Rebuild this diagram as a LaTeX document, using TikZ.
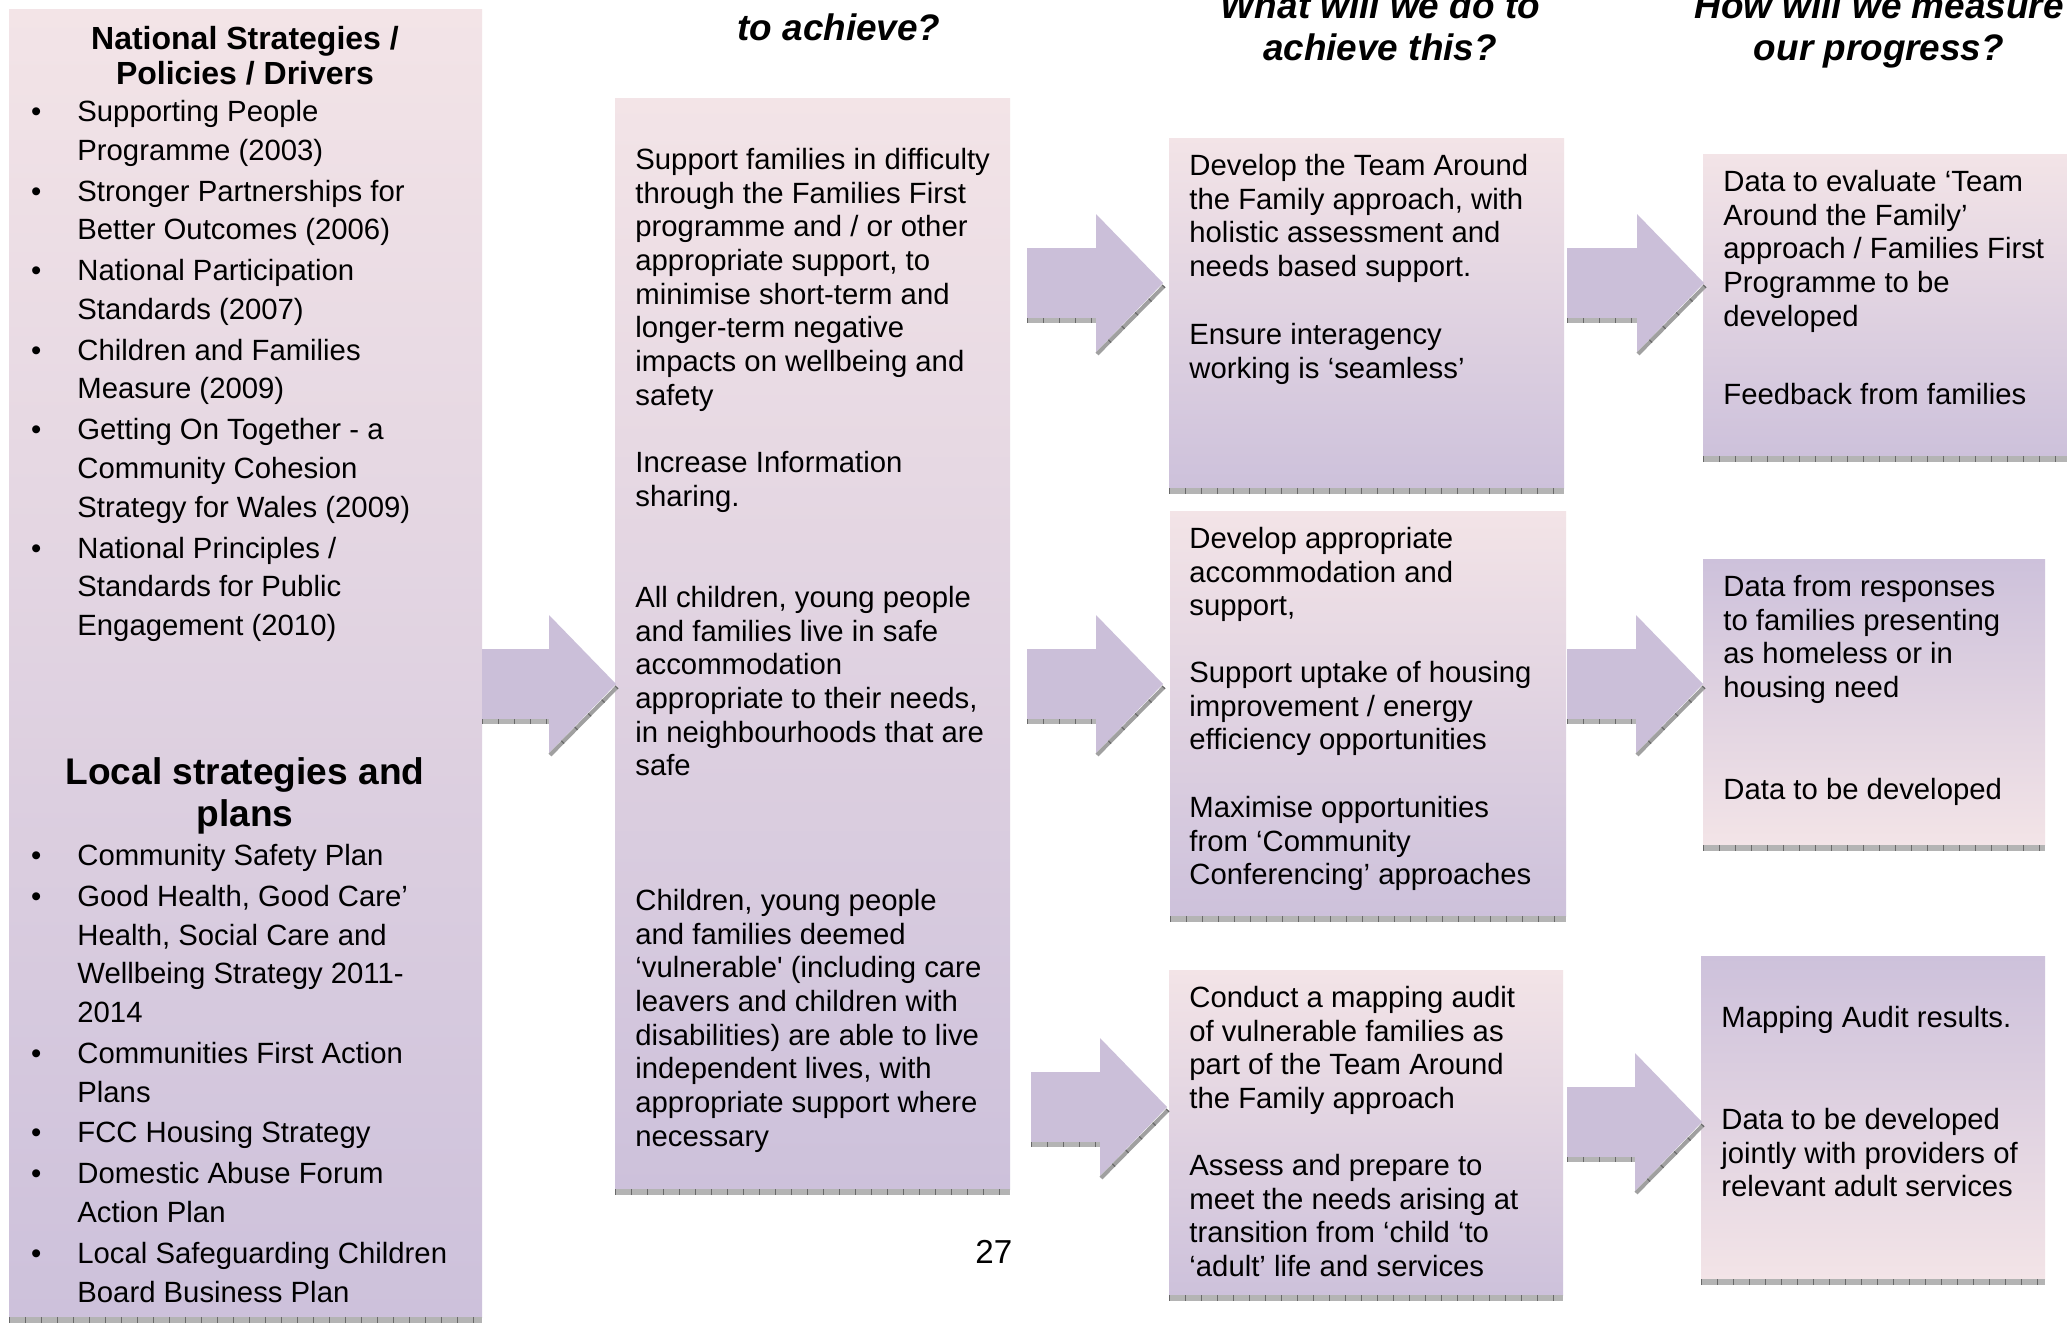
\documentclass[tikz,border=0pt]{standalone}
\usepackage{fontspec}
\setmainfont{Liberation Sans}
\definecolor{pinkC}{RGB}{243,228,231}
\definecolor{lavC}{RGB}{205,193,219}
\definecolor{arrC}{RGB}{203,191,217}
\definecolor{bandC}{RGB}{180,180,180}
\definecolor{edgeC}{RGB}{160,160,160}
\definecolor{tickC}{RGB}{105,105,105}
\newcommand\bodyfont{\fontsize{14.65pt}{16.83pt}\selectfont}
\newcommand\listfont{\fontsize{14.65pt}{19.35pt}\selectfont}
\newcommand\headfont{\bfseries\fontsize{16pt}{17.5pt}\selectfont}
\newcommand\localfont{\bfseries\fontsize{18.55pt}{21pt}\selectfont}
\newcommand\colhfont{\bfseries\itshape\fontsize{18.45pt}{21pt}\selectfont}
\newcommand\pagefont{\fontsize{16.6pt}{19pt}\selectfont}
\newcommand\fl{\rule{0pt}{12pt}}
\newcommand\fh{\rule{0pt}{16pt}}
\newcommand\bul{\llap{\textbullet\hspace{18pt}}}
% gradient box: x1 y1 x2 y2 topcolor bottomcolor
\newcommand\gbox[6]{%
  \shade[top color=#5,bottom color=#6] (#1,#2) rectangle (#3,#4);
  \fill[bandC] (#1,#4) rectangle (#3,{#4+6});
  \draw[tickC,line width=3pt,dash pattern=on 0.6pt off 7.4pt] (#1,{#4+3}) -- (#3,{#4+3});
}
% block arrow: left x, tip x, centre y
\newcommand\barrow[3]{%
  \fill[arrC] (#1,{#3-35}) -- ({#2-67},{#3-35}) -- ({#2-67},{#3-69}) -- (#2,#3)
     -- ({#2-67},{#3+69}) -- ({#2-67},{#3+35}) -- (#1,{#3+35}) -- cycle;
  \fill[bandC] (#1,{#3+35}) rectangle ({#2-67},{#3+40});
  \draw[tickC,line width=2.5pt,dash pattern=on 0.6pt off 7.4pt] (#1,{#3+37.5}) -- ({#2-67},{#3+37.5});
  \draw[edgeC,line width=2pt] ({#2+1},{#3+3}) -- ({#2-66},{#3+71});
  \draw[tickC,line width=2pt,dash pattern=on 0.6pt off 9pt] ({#2+1},{#3+3}) -- ({#2-66},{#3+71});
}
\begin{document}
\begin{tikzpicture}[x=0.5pt,y=-0.5pt,
  txt/.style={anchor=north west,inner sep=0pt,align=left,font=\bodyfont},
  lst/.style={anchor=north west,inner sep=0pt,align=left,font=\listfont},
  colh/.style={anchor=north,inner sep=0pt,align=center,font=\colhfont}]
\useasboundingbox (0,0) rectangle (2067,1324);
\clip (0,0) rectangle (2067,1324);
\fill[white] (0,0) rectangle (2067,1324);

% boxes
\gbox{9}{9}{482}{1317}{pinkC}{lavC}
\gbox{615}{98}{1010}{1189}{pinkC}{lavC}
\gbox{1169}{138}{1564}{488}{pinkC}{lavC}
\gbox{1170}{511}{1566}{916}{pinkC}{lavC}
\gbox{1169}{970}{1563}{1295}{pinkC}{lavC}
\gbox{1703}{154}{2067}{456}{pinkC}{lavC}
\gbox{1703}{559}{2045}{845}{lavC}{pinkC}
\gbox{1701}{956}{2045}{1279}{lavC}{pinkC}

% arrows
\barrow{482}{616}{684}
\barrow{1027}{1163}{283}
\barrow{1567}{1704}{283}
\barrow{1027}{1163}{684}
\barrow{1567}{1703}{684}
\barrow{1031}{1167}{1107}
\barrow{1567}{1702}{1122}

% column headings
\node[anchor=base,inner sep=0pt,font=\colhfont] (h2) at (839,40) {to achieve?};
\node[colh] (h3) at (1380,-14) {\fh What will we do to\\achieve this?};
\node[colh] (h4) at (1879,-14) {\fh How will we measure\\our progress?};

% left column
\node[anchor=north,inner sep=0pt,align=center,font=\headfont] (nath) at (245,17)
  {\fh National Strategies /\\Policies / Drivers};
\node[lst] (natl) at (77,97) {\fl\bul Supporting People\\Programme (2003)\\[1.1pt]
\bul Stronger Partnerships for\\Better Outcomes (2006)\\[1.1pt]
\bul National Participation\\Standards (2007)\\[1.1pt]
\bul Children and Families\\Measure (2009)\\[1.1pt]
\bul Getting On Together - a\\Community Cohesion\\Strategy for Wales (2009)\\[1.1pt]
\bul National Principles /\\Standards for Public\\Engagement (2010)};
\node[anchor=north,inner sep=0pt,align=center,font=\localfont] (loch) at (245,752)
  {\fh Local strategies and\\plans};
\node[lst] (locl) at (77,841) {\fl\bul Community Safety Plan\\[1.1pt]
\bul Good Health, Good Care’\\Health, Social Care and\\Wellbeing Strategy 2011-\\2014\\[1.1pt]
\bul Communities First Action\\Plans\\[1.1pt]
\bul FCC Housing Strategy\\[1.1pt]
\bul Domestic Abuse Forum\\Action Plan\\[1.1pt]
\bul Local Safeguarding Children\\Board Business Plan};

% middle column
\node[txt] (m1) at (635,145) {\fl Support families in difficulty\\through the Families First\\programme and / or other\\appropriate support, to\\minimise short-term and\\longer-term negative\\impacts on wellbeing and\\safety};
\node[txt] (m2) at (635,448) {\fl Increase Information\\sharing.};
\node[txt] (m3) at (635,583) {\fl All children, young people\\and families live in safe\\accommodation\\appropriate to their needs,\\in neighbourhoods that are\\safe};
\node[txt] (m4) at (635,886) {\fl Children, young people\\and families deemed\\‘vulnerable\textquotesingle{} (including care\\leavers and children with\\disabilities) are able to live\\independent lives, with\\appropriate support where\\necessary};

% action column
\node[txt] (a1) at (1189,151) {\fl Develop the Team Around\\the Family approach, with\\holistic assessment and\\needs based support.};
\node[txt] (a2) at (1189,320) {\fl Ensure interagency\\working is ‘seamless’};
\node[txt] (a3) at (1189,524) {\fl Develop appropriate\\accommodation and\\support,};
\node[txt] (a4) at (1189,658) {\fl Support uptake of housing\\improvement / energy\\efficiency opportunities};
\node[txt] (a5) at (1189,793) {\fl Maximise opportunities\\from ‘Community\\Conferencing’ approaches};
\node[txt] (a6) at (1189,983) {\fl Conduct a mapping audit\\of vulnerable families as\\part of the Team Around\\the Family approach};
\node[txt] (a7) at (1189,1151) {\fl Assess and prepare to\\meet the needs arising at\\transition from ‘child ‘to\\‘adult’ life and services};

% measure column
\node[txt] (p1) at (1723,167) {\fl Data to evaluate ‘Team\\Around the Family’\\approach / Families First\\Programme to be\\developed};
\node[txt] (p2) at (1723,380) {\fl Feedback from families};
\node[txt] (p3) at (1723,572) {\fl Data from responses\\to families presenting\\as homeless or in\\housing need};
\node[txt] (p4) at (1723,775) {\fl Data to be developed};
\node[txt] (p5) at (1721,1003) {\fl Mapping Audit results.};
\node[txt] (p6) at (1721,1105) {\fl Data to be developed\\jointly with providers of\\relevant adult services};

% page number
\node[anchor=base west,inner sep=0pt,font=\pagefont] (pg) at (975,1263) {27};
\end{tikzpicture}
\end{document}
